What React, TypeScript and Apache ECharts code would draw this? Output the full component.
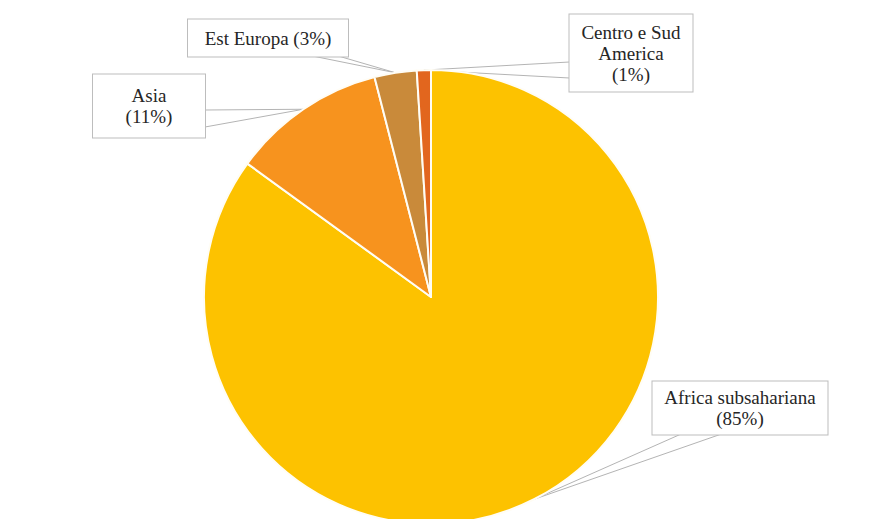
import React, { useEffect, useRef } from "react";
import * as echarts from "echarts";

const categories = ["Africa subsahariana", "Asia", "Est Europa", "Centro e Sud America"];
const values = [85, 11, 3, 1];
const labelPrefixes = ["Africa subsahariana\n", "Asia\n", "Est Europa ", "Centro e Sud\nAmerica\n"];
const colors = ["#FDC200", "#F7931E", "#C98A3A", "#E2661E"];

const CENTER = [431, 297];
const RADIUS = 227;

// label box layout: center x, center y, box width, vertical padding, callout attach offsets
const labelBoxes = [
  { x: 740, y: 408, w: 175, pv: 5.5, attach: [[-60, 26.5], [-20, 26.5]] },
  { x: 149, y: 106, w: 112, pv: 10.5, attach: [[56, 4], [56, 21]] },
  { x: 268, y: 38, w: 160, pv: 8, attach: [[47, 18.5], [72, 18.5]] },
  { x: 631, y: 53, w: 123, pv: 7, attach: [[-61.5, 9], [-61.5, 25]] },
];

function anchorPoint(index: number): number[] {
  const total = values.reduce((a, b) => a + b, 0);
  let before = 0;
  for (let i = 0; i < index; i++) before += values[i];
  const mid = ((before + values[index] / 2) / total) * Math.PI * 2;
  return [CENTER[0] + RADIUS * Math.sin(mid), CENTER[1] - RADIUS * Math.cos(mid)];
}

export default function App() {
  const ref = useRef<HTMLDivElement>(null);
  useEffect(() => {
    if (!ref.current) return;
    const chart = echarts.init(ref.current, null, { renderer: "svg" });
    const data = categories.map((name, i) => ({
      name,
      value: values[i],
      itemStyle: { color: colors[i] },
      label: {
        width: labelBoxes[i].w,
        padding: [labelBoxes[i].pv, 0],
      },
    }));
    chart.setOption({
      animation: false,
      backgroundColor: "#ffffff",
      textStyle: { fontFamily: "Liberation Serif" },
      series: [
        {
          type: "pie",
          center: CENTER,
          radius: RADIUS,
          startAngle: 90,
          clockwise: true,
          data,
          itemStyle: { borderColor: "#fffdf5", borderWidth: 2 },
          label: {
            show: true,
            position: "outside",
            formatter: (p: any) => labelPrefixes[p.dataIndex] + "(" + Math.round(p.percent) + "%)",
            fontFamily: "serif",
            fontSize: 19,
            lineHeight: 21,
            color: "#262626",
            align: "center",
            backgroundColor: "#ffffff",
            borderColor: "#bdbdbd",
            borderWidth: 1,
          },
          labelLine: {
            show: true,
            length: 10,
            length2: 10,
            lineStyle: { color: "#b4b4b4", width: 1 },
          },
          labelLayout: (params: any) => {
            const i = params.dataIndex;
            const b = labelBoxes[i];
            const a = anchorPoint(i);
            const p1 = [b.x + b.attach[0][0], b.y + b.attach[0][1]];
            const p2 = [b.x + b.attach[1][0], b.y + b.attach[1][1]];
            return {
              x: b.x,
              y: b.y,
              align: "center",
              verticalAlign: "middle",
              labelLinePoints: [p1, a, p2],
            };
          },
          emphasis: { disabled: true },
        },
      ],
    });
    return () => chart.dispose();
  }, []);
  return (
    <div
      ref={ref}
      style={{ position: "fixed", left: 0, top: 0, width: 884, height: 519 }}
    />
  );
}
